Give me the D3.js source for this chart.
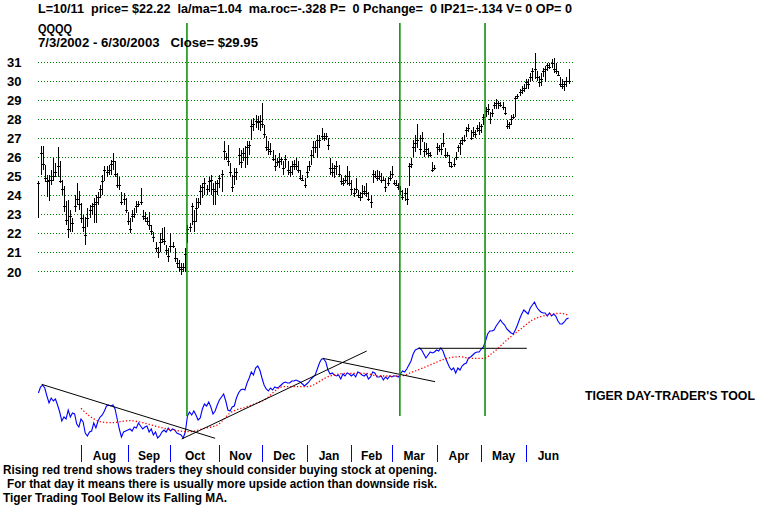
<!DOCTYPE html>
<html>
<head>
<meta charset="utf-8">
<script src="https://cdn.jsdelivr.net/npm/d3@7"></script>
<style>
  html, body { margin: 0; padding: 0; background: #ffffff; }
  svg text { font-family: "Liberation Sans", Arial, sans-serif; font-weight: bold; white-space: pre; fill: #000; }
</style>
</head>
<body>
<svg id="chart"></svg>
<script>
// Daily QQQQ bars, 7/3/2002 - 6/30/2003 (one entry per trading day)
const highs = [
  24.73, 26.54, 26.54, 25.58, 25.05, 25.05, 25.31, 25.93, 25.66, 26.49,
  25.75, 24.79, 24.44, 23.65, 23.73, 23.21, 22.77, 24.00, 24.61, 24.18,
  23.56, 22.94, 22.86, 23.30, 23.47, 23.56, 23.82, 24.00, 24.17, 24.52,
  25.05, 25.49, 25.49, 25.58, 25.84, 26.19, 25.75, 25.14, 24.96, 24.17,
  24.09, 23.82, 23.12, 22.77, 23.21, 23.30, 23.65, 23.65, 24.35, 23.21,
  23.12, 22.86, 23.12, 22.42, 22.07, 21.54, 21.28, 21.98, 22.24, 22.33,
  21.37, 21.19, 21.98, 21.54, 21.19, 20.66, 20.58, 20.40, 20.40, 21.19,
  22.42, 22.51, 23.56, 23.21, 23.82, 23.82, 24.52, 24.61, 24.88, 24.52,
  24.96, 25.05, 24.61, 24.70, 24.79, 25.05, 25.31, 26.80, 26.19, 26.63,
  25.66, 25.05, 25.40, 25.40, 26.45, 26.37, 26.45, 26.54, 26.80, 26.80,
  27.94, 28.03, 28.21, 28.12, 28.21, 28.82, 27.68, 27.07, 26.80, 26.72,
  26.37, 26.10, 25.93, 26.19, 26.01, 25.75, 26.10, 25.75, 25.49, 25.75,
  25.84, 25.93, 25.75, 25.31, 25.05, 24.87, 25.49, 25.75, 26.37, 26.80,
  26.80, 27.15, 27.15, 27.51, 27.24, 27.24, 26.98, 25.93, 25.66, 25.58,
  25.75, 25.58, 25.05, 24.87, 25.05, 25.49, 25.23, 24.79, 24.35, 24.87,
  24.26, 24.17, 24.52, 24.44, 24.61, 24.17, 24.00, 25.31, 25.23, 25.31,
  25.23, 25.14, 24.96, 24.87, 24.96, 25.23, 25.49, 24.79, 24.79, 24.62,
  24.44, 24.27, 24.36, 24.36, 25.66, 25.92, 26.87, 27.13, 27.74, 27.13,
  27.30, 26.78, 26.70, 26.44, 26.26, 25.74, 25.57, 26.70, 26.61, 26.70,
  27.22, 26.44, 26.26, 26.09, 25.74, 25.92, 26.26, 26.61, 26.87, 27.04,
  27.13, 27.56, 27.74, 27.39, 27.56, 27.39, 27.65, 27.82, 27.74, 28.26,
  28.60, 28.78, 28.34, 28.52, 28.86, 29.04, 28.95, 28.86, 28.86, 28.60,
  27.91, 27.82, 28.17, 28.26, 29.21, 29.30, 29.56, 29.73, 29.82, 30.08,
  30.08, 30.42, 30.68, 31.46, 30.51, 30.25, 30.42, 30.68, 30.77, 30.94,
  30.94, 31.12, 31.20, 30.94, 30.51, 30.16, 30.08, 29.99, 30.16, 30.60
];
const lows = [
  22.77, 25.05, 25.31, 24.67, 23.91, 23.65, 24.52, 24.70, 24.96, 24.96,
  24.61, 24.00, 23.12, 22.42, 21.72, 22.07, 22.07, 23.12, 23.47, 23.21,
  22.51, 22.07, 21.37, 22.33, 22.77, 22.94, 22.51, 22.51, 23.47, 23.82,
  24.00, 24.70, 24.96, 25.05, 25.05, 25.31, 24.96, 24.35, 24.26, 23.47,
  23.47, 23.03, 22.42, 21.98, 22.59, 22.77, 23.03, 23.38, 23.47, 22.68,
  22.59, 22.42, 22.15, 21.89, 21.54, 21.02, 20.66, 21.02, 21.45, 21.37,
  20.84, 20.49, 21.02, 21.19, 20.49, 20.14, 19.96, 19.79, 19.96, 19.96,
  21.46, 22.07, 22.42, 22.07, 22.59, 23.29, 23.47, 23.82, 24.00, 24.00,
  24.17, 24.00, 23.47, 23.47, 24.00, 24.35, 24.17, 25.84, 25.84, 25.49,
  24.96, 24.17, 24.52, 24.79, 25.58, 25.40, 25.75, 25.40, 25.58, 26.10,
  26.89, 27.33, 27.51, 27.42, 27.33, 27.51, 26.98, 26.28, 26.10, 26.10,
  25.75, 25.23, 25.49, 25.40, 25.58, 25.05, 25.40, 25.05, 24.96, 25.05,
  25.31, 25.31, 25.14, 24.79, 24.70, 24.35, 24.87, 25.23, 25.58, 25.93,
  26.19, 25.93, 26.45, 26.89, 26.80, 26.89, 26.37, 25.05, 24.96, 24.87,
  25.05, 24.96, 24.52, 24.44, 24.61, 24.52, 24.44, 24.00, 23.91, 24.08,
  23.82, 23.65, 23.82, 24.00, 23.91, 23.65, 23.30, 24.61, 24.87, 24.70,
  24.79, 24.61, 24.70, 24.17, 24.44, 24.70, 24.87, 24.53, 24.44, 24.27,
  24.01, 23.75, 23.66, 23.49, 24.44, 25.40, 26.00, 26.26, 26.44, 26.09,
  26.78, 26.00, 26.09, 26.00, 26.00, 25.22, 25.31, 26.09, 26.26, 26.09,
  26.52, 25.92, 26.00, 25.48, 25.40, 25.48, 25.83, 26.26, 26.09, 26.61,
  26.78, 27.04, 27.30, 26.87, 27.04, 26.96, 27.30, 27.13, 27.22, 27.65,
  28.08, 28.17, 27.74, 28.08, 28.52, 28.52, 28.52, 28.60, 28.43, 28.17,
  27.48, 27.48, 27.65, 28.00, 28.08, 29.04, 29.21, 29.30, 29.38, 29.56,
  29.56, 29.90, 29.99, 30.08, 29.99, 29.64, 29.73, 30.16, 29.90, 30.51,
  30.60, 30.68, 30.42, 30.34, 30.25, 29.64, 29.56, 29.47, 29.64, 29.82
];
const closes = [
  24.6, 26.2, 25.6, 24.9, 24.7, 24.8, 24.8, 25.0, 25.2, 25.5,
  24.7, 24.3, 23.4, 22.7, 22.2, 22.9, 22.5, 23.4, 23.8, 23.5,
  22.8, 22.3, 21.9, 22.8, 23.2, 23.4, 23.5, 23.6, 23.9, 24.3,
  24.7, 25.3, 25.2, 25.3, 25.6, 25.8, 25.1, 24.5, 24.5, 23.6,
  23.8, 23.2, 22.6, 22.2, 22.9, 23.0, 23.4, 23.5, 23.6, 22.9,
  22.8, 22.6, 22.4, 22.1, 21.8, 21.2, 21.0, 21.5, 21.7, 21.6,
  21.1, 20.8, 21.3, 21.3, 20.7, 20.4, 20.2, 20.1, 20.2, 20.9,
  22.22, 22.3, 23.4, 22.6, 23.3, 23.6, 24.2, 24.4, 24.6, 24.3,
  24.7, 24.8, 24.3, 24.2, 24.6, 24.9, 25.1, 26.3, 26.0, 25.8,
  25.2, 24.4, 25.0, 25.2, 26.1, 25.7, 26.2, 26.0, 26.5, 26.6,
  27.6, 27.7, 27.9, 27.8, 27.9, 27.7, 27.2, 26.5, 26.4, 26.3,
  25.9, 25.5, 25.7, 25.8, 25.9, 25.4, 25.9, 25.3, 25.2, 25.5,
  25.6, 25.5, 25.3, 24.9, 24.8, 24.5, 25.2, 25.5, 26.1, 26.5,
  26.5, 26.9, 26.9, 27.1, 27.0, 27.1, 26.6, 25.4, 25.2, 25.4,
  25.5, 25.1, 24.7, 24.6, 24.8, 25.0, 24.6, 24.3, 24.1, 24.3,
  24.0, 23.9, 24.1, 24.2, 24.1, 23.8, 23.6, 25.1, 25.0, 24.9,
  25.0, 24.8, 24.8, 24.4, 24.6, 24.9, 25.1, 24.6, 24.5, 24.4,
  24.2, 23.9, 24.1, 23.8, 25.5, 25.6, 26.5, 26.7, 26.9, 26.4,
  27.0, 26.3, 26.4, 26.2, 26.1, 25.3, 25.4, 26.5, 26.4, 26.4,
  26.7, 26.1, 26.1, 25.7, 25.5, 25.6, 26.0, 26.5, 26.7, 26.9,
  26.9, 27.4, 27.5, 27.0, 27.3, 27.2, 27.5, 27.4, 27.6, 28.1,
  28.4, 28.5, 28.0, 28.3, 28.7, 28.8, 28.8, 28.7, 28.6, 28.3,
  27.6, 27.7, 28.0, 28.1, 29.1, 29.2, 29.4, 29.5, 29.6, 29.9,
  29.8, 30.2, 30.5, 30.6, 30.2, 29.9, 30.1, 30.5, 30.6, 30.8,
  30.7, 30.9, 30.6, 30.5, 30.3, 29.8, 29.7, 29.8, 30.0, 29.95
];

// Tiger Day-Trader's Tool, one value per trading day
const toolValues = [
  5.2, 5.8, 6.0, 5.7, 4.9, 4.2, 4.7, 4.4, 4.6, 4.0,
  3.3, 2.4, 2.8, 2.6, 3.5, 2.8, 3.2, 3.1, 2.1, 1.8,
  2.6, 2.3, 1.2, 0.9, 1.3, 1.4, 2.2, 1.7, 2.4, 2.8,
  3.0, 3.4, 3.9, 4.0, 3.9, 4.0, 3.6, 2.6, 1.6, 0.8,
  1.3, 1.4, 1.5, 1.6, 1.4, 1.8, 1.7, 2.2, 1.9, 1.6,
  1.8, 1.9, 1.3, 1.6, 1.0, 1.3, 0.7, 0.9, 1.3, 1.5,
  1.3, 1.7, 1.4, 1.6, 1.5, 1.2, 1.1, 1.0, 0.7, 1.3,
  2.9, 3.3, 3.0, 3.4, 3.0, 2.5, 2.7, 3.6, 4.1, 3.9,
  4.3, 3.8, 3.1, 3.4, 4.0, 4.5, 4.8, 5.1, 4.4, 3.5,
  3.4, 3.8, 3.9, 4.7, 5.2, 5.5, 5.6, 5.5, 6.2, 6.7,
  7.3, 7.0, 7.7, 7.9, 7.5, 6.7, 6.0, 5.6, 5.4, 5.7,
  5.5, 5.8, 5.7, 5.8, 6.0, 6.2, 6.3, 6.2, 6.2, 6.4,
  6.4, 6.5, 6.4, 6.3, 6.1, 5.9, 6.1, 6.3, 6.6, 6.8,
  7.0, 7.6, 8.2, 8.6, 8.6, 8.3, 7.5, 7.1, 7.2, 7.0,
  6.9, 7.0, 6.6, 7.1, 6.9, 7.2, 7.1, 6.9, 7.1, 6.8,
  7.3, 7.2, 7.0, 6.9, 7.1, 6.6, 6.8, 7.3, 7.2, 6.8,
  6.8, 6.9, 6.5, 6.8, 6.6, 6.9, 6.8, 6.9, 6.9, 6.8,
  7.1, 7.4, 7.3, 7.6, 8.0, 8.4, 9.1, 9.5, 9.6, 9.7,
  9.5, 9.1, 8.7, 9.0, 9.3, 9.2, 9.3, 9.5, 9.4, 9.7,
  9.4, 8.8, 8.3, 7.8, 7.5, 7.7, 7.2, 7.7, 7.5, 7.9,
  8.1, 8.2, 8.7, 8.8, 9.0, 9.2, 9.3, 9.3, 9.6, 9.8,
  10.4, 11.1, 11.4, 11.4, 11.5, 11.9, 12.2, 12.5, 12.2, 12.0,
  11.6, 11.4, 11.2, 11.1, 11.5, 12.0, 12.6, 13.1, 13.5, 13.3,
  13.1, 13.7, 14.0, 14.3, 13.8, 13.5, 13.3, 13.2, 13.2, 12.9,
  13.2, 12.9, 13.1, 12.9, 12.4, 12.1, 12.1, 12.3, 12.6, 12.7
];

// Moving average of the tool (red dotted), read at these trading days
const maDays   = [20, 24, 29, 34, 43, 49, 56, 63, 71, 78, 84, 90, 98, 106, 115, 126, 137, 145, 153, 160, 170, 176, 184, 192, 198, 203, 209, 214, 220, 226, 232, 239, 245, 249];
const maValues = [3.67, 2.9, 2.33, 2.23, 2.43, 2.23, 1.83, 1.5, 1.33, 1.67, 2.0, 3.2, 3.83, 4.5, 5.83, 5.83, 6.9, 7.17, 7.17, 6.9, 6.9, 7.33, 8.0, 8.67, 8.83, 8.67, 8.67, 9.33, 10.5, 11.5, 12.5, 13.0, 13.17, 13.0];

// Hand-drawn trend lines on the tool (day, value at each end)
const trendStartDays   = [1.5, 67.3, 133.5, 178.4];
const trendStartValues = [6.07, 0.6, 8.67, 9.67];
const trendEndDays     = [83, 154.2, 186.3, 229.4];
const trendEndValues   = [0.67, 9.4, 6.33, 9.67];

// Signal days marked with green verticals (10/11/2002 and two later ones)
const signalDays = [70, 170, 210];

// Month axis
const monthNames = ["Aug", "Sep", "Oct", "Nov", "Dec", "Jan", "Feb", "Mar", "Apr", "May", "Jun"];
const monthStartDays = [20, 42, 62, 85, 105, 126, 147, 166, 187, 208, 229];
const totalDays = 250;

// Price gridlines
const priceTicks = [20, 21, 22, 23, 24, 25, 26, 27, 28, 29, 30, 31];

// Text blocks
const headerLine = "L=10/11  price= $22.22  la/ma=1.04  ma.roc=-.328 P=  0 Pchange=  0 IP21=-.134 V= 0 OP= 0";
const symbolLine = "QQQQ";
const rangeLine = "7/3/2002 - 6/30/2003   Close= $29.95";
const toolTitle = "TIGER DAY-TRADER'S TOOL";
const noteLines = [
  "Rising red trend shows traders they should consider buying stock at opening.",
  "For that day it means there is usually more upside action than downside risk.",
  "Tiger Trading Tool Below its Falling MA."
];

// Build the whole chart
function drawChart() {
  const width = 767;
  const height = 508;

  const svg = d3.select("#chart")
    .attr("width", width)
    .attr("height", height);

  svg.append("rect")
    .attr("width", width)
    .attr("height", height)
    .attr("fill", "#ffffff");

  const xDay = d3.scaleLinear().domain([0, totalDays]).range([38.4, 570.7]);
  const yPrice = d3.scaleLinear().domain([20, 31]).range([271, 61.5]);
  const yTool = d3.scaleLinear().domain([0, 15]).range([445, 295]);

  drawGrid(svg, xDay, yPrice);
  drawBars(svg, xDay, yPrice);
  drawTool(svg, xDay, yTool);
  drawSignals(svg, xDay);
  drawMonthAxis(svg, xDay);
  drawTexts(svg);
}

// Dotted green price gridlines and their labels
function drawGrid(svg, xDay, yPrice) {
  const grid = svg.append("g");
  grid.selectAll("line")
    .data(priceTicks)
    .enter()
    .append("line")
    .attr("x1", 38)
    .attr("x2", xDay(totalDays) + 2)
    .attr("y1", d => Math.round(yPrice(d)) + 0.5)
    .attr("y2", d => Math.round(yPrice(d)) + 0.5)
    .attr("stroke", "#008000")
    .attr("stroke-width", 1)
    .attr("stroke-dasharray", "1,2")
    .attr("shape-rendering", "crispEdges");

  grid.selectAll("text")
    .data(priceTicks)
    .enter()
    .append("text")
    .attr("x", 7)
    .attr("y", d => yPrice(d) + 5.5)
    .attr("font-size", "13px")
    .text(d => d);
}

// Green vertical lines through both panels
function drawSignals(svg, xDay) {
  svg.append("g")
    .selectAll("line")
    .data(signalDays)
    .enter()
    .append("line")
    .attr("x1", d => xDay(d) - 0.5)
    .attr("x2", d => xDay(d) - 0.5)
    .attr("y1", 23)
    .attr("y2", 416)
    .attr("stroke", "#008a00")
    .attr("stroke-width", 1.5);
}

// High-low bars with close ticks
function drawBars(svg, xDay, yPrice) {
  const bars = svg.append("g")
    .attr("stroke", "#000")
    .attr("stroke-width", 1)
    .attr("shape-rendering", "crispEdges");

  const days = d3.range(highs.length);

  bars.selectAll("line.hl")
    .data(days)
    .enter()
    .append("line")
    .attr("class", "hl")
    .attr("x1", i => Math.round(xDay(i)) + 0.5)
    .attr("x2", i => Math.round(xDay(i)) + 0.5)
    .attr("y1", i => yPrice(highs[i]))
    .attr("y2", i => yPrice(lows[i]));

  bars.selectAll("line.cl")
    .data(days)
    .enter()
    .append("line")
    .attr("class", "cl")
    .attr("x1", i => Math.round(xDay(i)) - 1)
    .attr("x2", i => Math.round(xDay(i)) + 2)
    .attr("y1", i => Math.round(yPrice(closes[i])) + 0.5)
    .attr("y2", i => Math.round(yPrice(closes[i])) + 0.5);
}

// Lower panel: tool line, its moving average and trend lines
function drawTool(svg, xDay, yTool) {
  const toolLine = d3.line()
    .x((d, i) => xDay(i))
    .y(d => yTool(d));

  svg.append("path")
    .datum(toolValues)
    .attr("d", toolLine)
    .attr("fill", "none")
    .attr("stroke", "#0000ff")
    .attr("stroke-width", 1.1);

  const maLine = d3.line()
    .x(i => xDay(maDays[i]))
    .y(i => yTool(maValues[i]))
    .curve(d3.curveMonotoneX);

  svg.append("path")
    .datum(d3.range(maDays.length))
    .attr("d", maLine)
    .attr("fill", "none")
    .attr("stroke", "#ff0000")
    .attr("stroke-width", 1.3)
    .attr("stroke-dasharray", "1.3,2");

  svg.append("g")
    .selectAll("line")
    .data(d3.range(trendStartDays.length))
    .enter()
    .append("line")
    .attr("x1", i => xDay(trendStartDays[i]))
    .attr("y1", i => yTool(trendStartValues[i]))
    .attr("x2", i => xDay(trendEndDays[i]))
    .attr("y2", i => yTool(trendEndValues[i]))
    .attr("stroke", "#000")
    .attr("stroke-width", 1);
}

// Blue month ticks and month names
function drawMonthAxis(svg, xDay) {
  const axis = svg.append("g");

  axis.selectAll("line")
    .data(monthStartDays)
    .enter()
    .append("line")
    .attr("x1", d => Math.round(xDay(d)) + 0.5)
    .attr("x2", d => Math.round(xDay(d)) + 0.5)
    .attr("y1", 445)
    .attr("y2", 462)
    .attr("stroke", "#0000ff")
    .attr("stroke-width", 1)
    .attr("shape-rendering", "crispEdges");

  axis.selectAll("text")
    .data(monthNames)
    .enter()
    .append("text")
    .attr("x", (d, i) => (xDay(monthStartDays[i]) + xDay(i + 1 < monthStartDays.length ? monthStartDays[i + 1] : totalDays)) / 2)
    .attr("y", 459.5)
    .attr("text-anchor", "middle")
    .attr("font-size", "12px")
    .text(d => d);
}

// Header, panel title and notes
function drawTexts(svg) {
  const addText = (x, y, str, len) => {
    const t = svg.append("text")
      .attr("x", x)
      .attr("y", y)
      .attr("font-size", "12px")
      .text(str);
    if (len) t.attr("textLength", len).attr("lengthAdjust", "spacingAndGlyphs");
    return t;
  };

  addText(38, 13, headerLine, 534);
  addText(38, 32.5, symbolLine, 34);
  addText(38, 47, rangeLine, 220);
  addText(585, 399.5, toolTitle, 170);
  addText(3, 474, noteLines[0], 434);
  addText(7, 488, noteLines[1], 430);
  addText(3, 502, noteLines[2], 224);
}

drawChart();
</script>
</body>
</html>
